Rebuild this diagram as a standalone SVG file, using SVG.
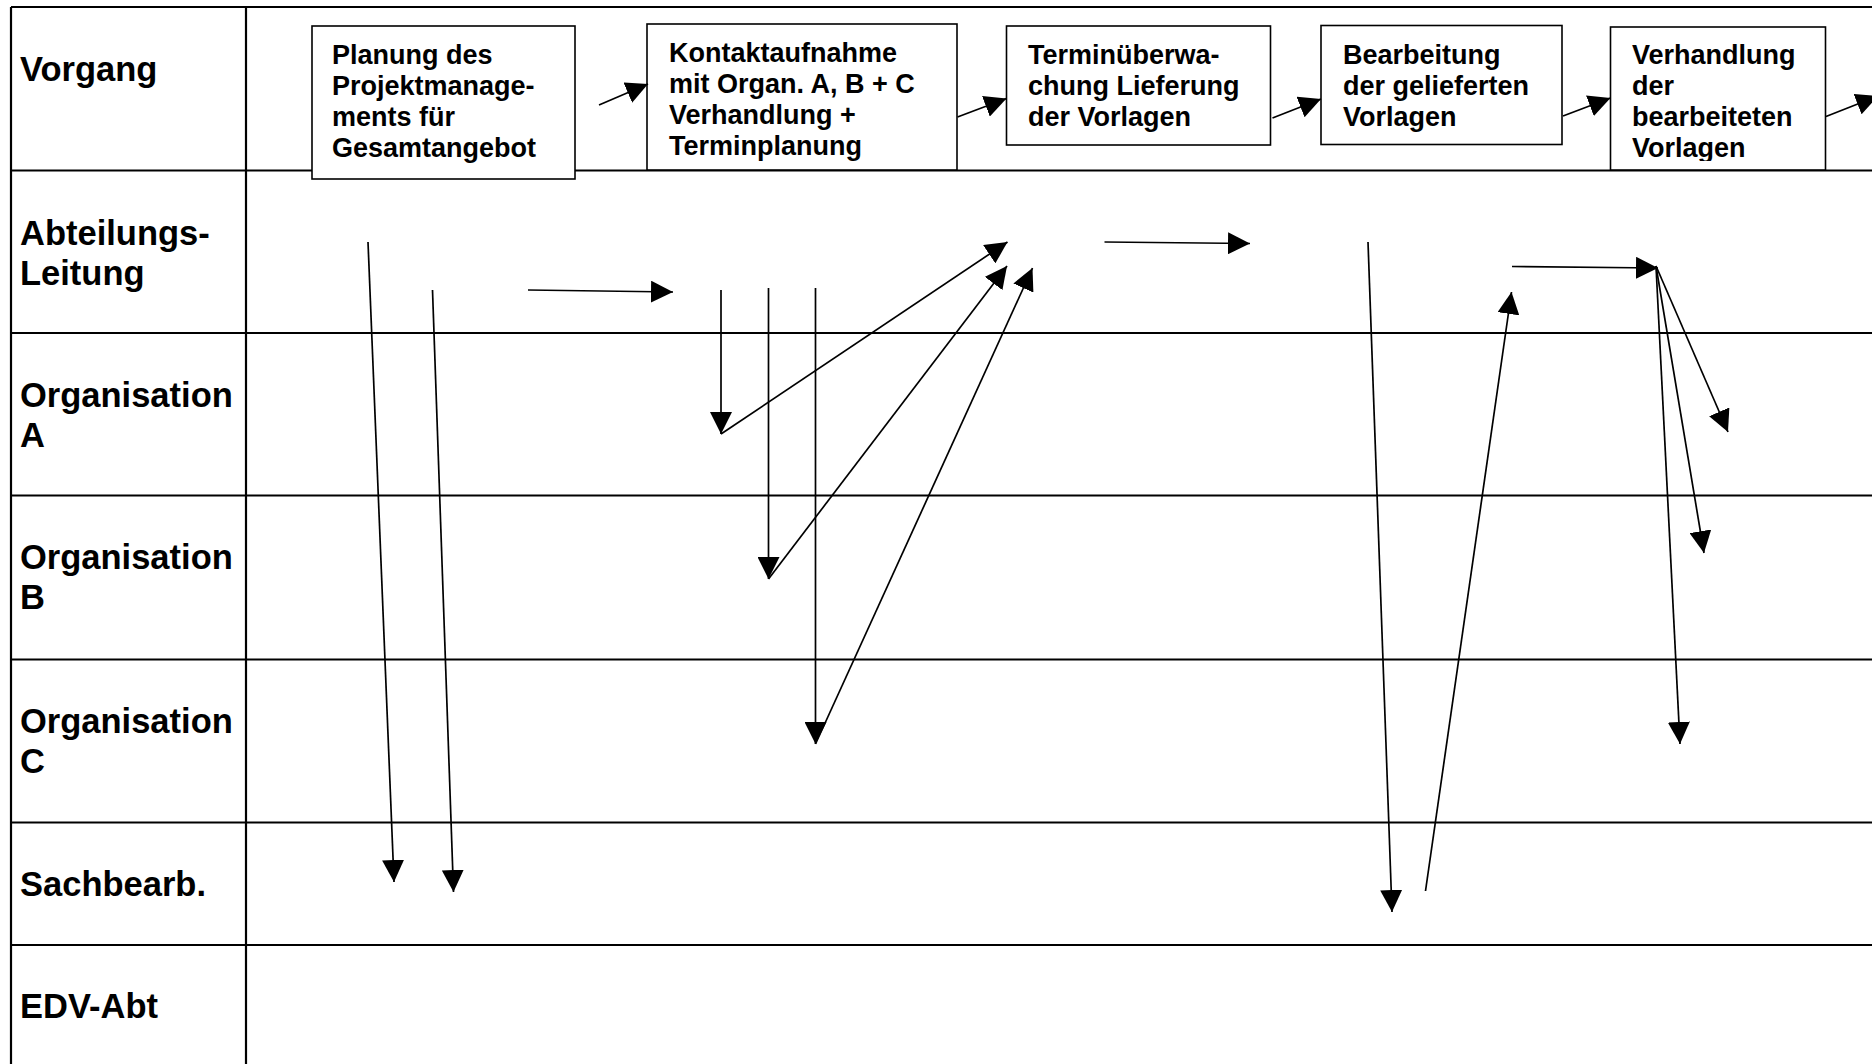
<svg xmlns="http://www.w3.org/2000/svg" width="1872" height="1064" viewBox="0 0 1872 1064">
<style>
.grid{stroke:#000;stroke-width:2.2;fill:none}
.box{fill:#fff;stroke:#000;stroke-width:1.6}
.lbl{font-family:"Liberation Sans",Arial,sans-serif;font-weight:bold;font-size:34.5px;fill:#000}
.bt{font-family:"Liberation Sans",Arial,sans-serif;font-weight:bold;font-size:27px;fill:#000}
.arr{stroke:#000;stroke-width:1.7;fill:none;marker-end:url(#ah)}
</style>
<defs>
<marker id="ah" markerUnits="userSpaceOnUse" markerWidth="22" markerHeight="22" viewBox="0 0 22 22" refX="22" refY="11" orient="auto">
<path d="M0,0 L22,11 L0,22 z" fill="#000"/>
</marker>
<clipPath id="clipB2"><rect x="647" y="24" width="310" height="137"/></clipPath>
<clipPath id="clipB5"><rect x="1610" y="27" width="216" height="134"/></clipPath>
</defs>
<rect width="1872" height="1064" fill="#fff"/>
<g id="table">
<line class="grid" x1="11" y1="7" x2="1872" y2="7"/>
<line class="grid" x1="11" y1="7" x2="11" y2="1064"/>
<line class="grid" x1="246" y1="7" x2="246" y2="1064"/>
<line class="grid" x1="11" y1="170.5" x2="1872" y2="170.5"/>
<line class="grid" x1="11" y1="333" x2="1872" y2="333"/>
<line class="grid" x1="11" y1="495.5" x2="1872" y2="495.5"/>
<line class="grid" x1="11" y1="659.5" x2="1872" y2="659.5"/>
<line class="grid" x1="11" y1="822.5" x2="1872" y2="822.5"/>
<line class="grid" x1="11" y1="945" x2="1872" y2="945"/>
</g>
<g id="lane-vorgang"><text class="lbl" x="20" y="81">Vorgang</text></g>
<g id="lane-abteilungsleitung"><text class="lbl" x="20" y="245">Abteilungs-</text><text class="lbl" x="20" y="285">Leitung</text></g>
<g id="lane-orgA"><text class="lbl" x="20" y="407">Organisation</text><text class="lbl" x="20" y="447">A</text></g>
<g id="lane-orgB"><text class="lbl" x="20" y="569">Organisation</text><text class="lbl" x="20" y="609">B</text></g>
<g id="lane-orgC"><text class="lbl" x="20" y="733">Organisation</text><text class="lbl" x="20" y="773">C</text></g>
<g id="lane-sachbearb"><text class="lbl" x="20" y="896">Sachbearb.</text></g>
<g id="lane-edv"><text class="lbl" x="20" y="1018">EDV-Abt</text></g>

<g id="node1">
<rect class="box" x="312" y="26" width="263" height="153"/>
<text class="bt" x="332" y="63.5">Planung des</text>
<text class="bt" x="332" y="94.5">Projektmanage-</text>
<text class="bt" x="332" y="125.5">ments für</text>
<text class="bt" x="332" y="156.5">Gesamtangebot</text>
</g>
<g id="node2">
<rect class="box" x="647" y="24" width="310" height="146"/>
<g clip-path="url(#clipB2)">
<text class="bt" x="669" y="62">Kontaktaufnahme</text>
<text class="bt" x="669" y="93">mit Organ. A, B + C</text>
<text class="bt" x="669" y="124">Verhandlung +</text>
<text class="bt" x="669" y="155">Terminplanung</text>
</g>
</g>
<g id="node3">
<rect class="box" x="1006.5" y="26" width="264" height="119"/>
<text class="bt" x="1028" y="63.5">Terminüberwa-</text>
<text class="bt" x="1028" y="94.5">chung Lieferung</text>
<text class="bt" x="1028" y="125.5">der Vorlagen</text>
</g>
<g id="node4">
<rect class="box" x="1321" y="25.5" width="241" height="119"/>
<text class="bt" x="1343" y="63.5">Bearbeitung</text>
<text class="bt" x="1343" y="94.5">der gelieferten</text>
<text class="bt" x="1343" y="125.5">Vorlagen</text>
</g>
<g id="node5">
<rect class="box" x="1610.5" y="27" width="215" height="143"/>
<g clip-path="url(#clipB5)">
<text class="bt" x="1632" y="64">Verhandlung</text>
<text class="bt" x="1632" y="95">der</text>
<text class="bt" x="1632" y="126">bearbeiteten</text>
<text class="bt" x="1632" y="157">Vorlagen</text>
</g>
</g>

<g id="connectors">
<line class="arr" x1="599" y1="105" x2="648" y2="84"/>
<line class="arr" x1="957.5" y1="117" x2="1006.5" y2="98.5"/>
<line class="arr" x1="1272.5" y1="118" x2="1321" y2="99"/>
<line class="arr" x1="1563" y1="116" x2="1610.5" y2="98"/>
<line class="arr" x1="1826" y1="116.5" x2="1878" y2="96"/>

<line class="arr" x1="368" y1="242" x2="394" y2="882"/>
<line class="arr" x1="432.5" y1="290" x2="453.5" y2="892"/>
<line class="arr" x1="528" y1="290" x2="673" y2="292"/>

<line class="arr" x1="721" y1="290" x2="721" y2="434"/>
<line class="arr" x1="768.5" y1="288" x2="768.5" y2="579"/>
<line class="arr" x1="815.5" y1="288" x2="815.5" y2="744"/>
<line class="arr" x1="721" y1="434" x2="1007.5" y2="242"/>
<line class="arr" x1="768.5" y1="579" x2="1007" y2="266"/>
<line class="arr" x1="815.5" y1="744" x2="1032.5" y2="268"/>

<line class="arr" x1="1104.5" y1="242" x2="1250" y2="243.5"/>
<line class="arr" x1="1368" y1="242" x2="1392" y2="912"/>
<line class="arr" x1="1425.5" y1="891" x2="1511.5" y2="292"/>
<line class="arr" x1="1512" y1="266.5" x2="1658" y2="268"/>
<line class="arr" x1="1656" y1="266" x2="1728" y2="432"/>
<line class="arr" x1="1656" y1="266" x2="1704" y2="553"/>
<line class="arr" x1="1656" y1="266" x2="1680" y2="744"/>
</g>
</svg>
